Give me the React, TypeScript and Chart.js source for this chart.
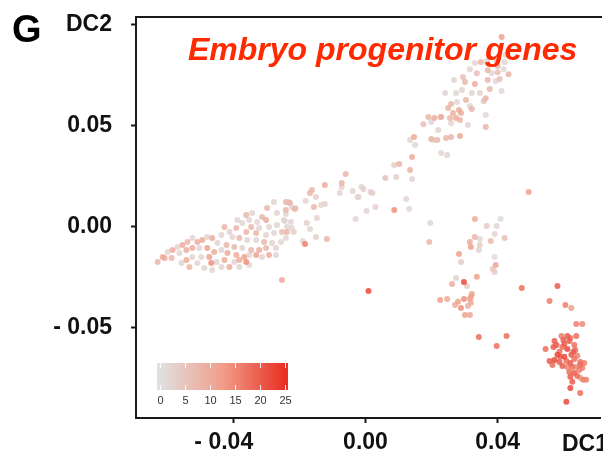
import React, { useEffect, useRef } from "react";
import { Chart, registerables } from "chart.js";

Chart.register(...registerables);

type Cell = [number, number, number]; // [DC1, DC2, expression]

const xTickValues = [-0.04, 0, 0.04];
const xTickLabels = ["- 0.04   ", "0.00", "0.04"];
const yTickValues = [-0.05, 0, 0.05, 0.1];
const yTickLabels = ["- 0.05", "0.00", "0.05", "DC2"];
const legendTicks = [0, 5, 10, 15, 20, 25];
const legendMax = 25;
const titleText = "Embryo progenitor genes";
const panelLetter = "G";
const xAxisName = "DC1";

const bandCells: Cell[] = [
  [-0.0277, 0.0122, 2], [-0.0241, 0.0122, 8], [-0.0232, 0.0122, 2], [-0.0211, 0.0092, 2],
  [-0.0298, 0.0092, 8], [-0.0241, 0.0082, 8], [-0.0268, 0.0067, 2], [-0.0313, 0.0047, 8],
  [-0.0343, 0.0067, 2], [-0.0361, 0.0057, 8], [-0.0328, 0.0022, 2], [-0.0301, 0.0032, 10],
  [-0.0352, 0.0032, 2], [-0.0373, 0.0017, 2], [-0.0388, 0.0032, 2], [-0.0346, -0.0002, 8],
  [-0.0322, -0.0007, 2], [-0.0292, -0.0002, 2], [-0.0268, 0.0007, 2], [-0.0247, 0.0032, 2],
  [-0.0226, 0.0022, 2], [-0.0223, -0.0007, 2], [-0.0253, -0.0027, 6], [-0.0277, -0.0032, 2],
  [-0.0301, -0.0042, 2], [-0.0331, -0.0032, 8], [-0.0361, -0.0027, 8], [-0.0391, -0.0007, 8],
  [-0.0412, -0.0027, 2], [-0.0427, -0.0002, 8], [-0.0436, -0.0042, 2], [-0.0403, -0.0052, 2],
  [-0.0382, -0.0057, 8], [-0.0358, -0.0067, 2], [-0.0331, -0.0067, 2], [-0.0307, -0.0077, 8],
  [-0.0283, -0.0082, 2], [-0.0256, -0.0077, 2], [-0.0241, -0.0057, 2], [-0.0271, -0.0107, 2],
  [-0.0301, -0.0107, 8], [-0.0322, -0.0117, 10], [-0.0346, -0.0117, 8], [-0.0373, -0.0107, 2],
  [-0.0397, -0.0102, 8], [-0.0421, -0.0092, 8], [-0.0448, -0.0082, 2], [-0.0464, -0.0057, 10],
  [-0.0479, -0.0052, 2], [-0.0494, -0.0067, 10], [-0.0509, -0.0077, 10], [-0.0524, -0.0057, 2],
  [-0.0539, -0.0077, 8], [-0.0554, -0.0092, 10], [-0.0569, -0.0102, 2], [-0.0584, -0.0117, 10],
  [-0.0599, -0.0127, 2], [-0.0614, -0.0151, 10], [-0.0629, -0.0176, 8], [-0.0587, -0.0156, 8],
  [-0.0563, -0.0131, 2], [-0.0542, -0.0117, 10], [-0.0524, -0.0107, 10], [-0.0503, -0.0107, 2],
  [-0.0479, -0.0107, 12], [-0.0458, -0.0127, 10], [-0.0436, -0.0117, 2], [-0.0418, -0.0131, 10],
  [-0.0391, -0.0141, 10], [-0.0367, -0.0151, 12], [-0.0382, -0.0166, 10], [-0.0352, -0.0141, 2],
  [-0.0331, -0.0141, 12], [-0.0313, -0.0151, 2], [-0.0292, -0.0141, 10], [-0.0271, -0.0141, 2],
  [-0.0361, -0.0176, 14], [-0.0397, -0.0176, 2], [-0.0427, -0.0166, 10], [-0.0451, -0.0176, 2],
  [-0.0473, -0.0151, 12], [-0.0497, -0.0151, 2], [-0.0524, -0.0151, 2], [-0.0542, -0.0166, 10],
  [-0.0509, -0.0181, 2], [-0.0467, -0.0181, 14], [-0.0436, -0.0201, 2], [-0.0488, -0.0206, 2],
  [-0.0412, -0.0201, 10], [-0.0352, -0.0191, 2], [-0.0382, -0.0201, 2], [-0.0533, -0.0201, 8],
  [-0.0557, -0.0181, 2], [-0.0464, -0.0216, 2], [-0.0608, -0.0156, 10], [-0.0241, 0.0062, 2],
  [-0.0244, 0.0027, 2], [-0.0223, 0.0097, 2], [-0.0214, 0.0087, 8], [-0.0229, 0.0117, 8],
];

const branchCells: Cell[] = [
  [0.0141, 0.0345, 10], [0.0229, 0.0365, 2], [0.0247, 0.0355, 2], [0.0087, 0.0305, 4],
  [0.0102, 0.031, 8], [0.0135, 0.028, 9], [0.006, 0.0241, 6], [0.0093, 0.0246, 3],
  [0.0141, 0.0236, 2], [-0.0012, 0.0196, 2], [-0.0006, 0.0186, 3], [0.0015, 0.0171, 2],
  [0.0021, 0.0166, 3], [-0.0021, 0.0146, 2], [0.0123, 0.0136, 2], [0.0003, 0.0077, 2],
  [0.003, 0.0097, 3], [0.0087, 0.0082, 14], [0.0132, 0.0087, 2], [-0.003, 0.0037, 2],
  [-0.006, 0.026, 8], [-0.0072, 0.0216, 8], [-0.0123, 0.0206, 10], [-0.0072, 0.0196, 3],
  [-0.0078, 0.0166, 2], [-0.0039, 0.0176, 2], [-0.0024, 0.0146, 2], [-0.0162, 0.0181, 8],
  [-0.0168, 0.0166, 8], [-0.0181, 0.0127, 2], [-0.015, 0.0146, 3], [-0.0156, 0.0097, 8],
  [-0.0135, 0.0107, 2], [-0.0123, 0.0112, 3], [-0.0147, 0.0042, 2], [-0.0178, 0.0017, 3],
  [-0.0168, -0.0012, 2], [-0.015, -0.0052, 3], [-0.0117, -0.0062, 8], [-0.019, -0.0072, 2],
  [-0.0183, -0.0087, 16], [-0.0253, -0.0265, 10], [-0.0217, -0.0027, 3], [-0.0238, -0.0027, 8],
  [-0.0238, -0.0002, 2], [0.0009, -0.032, 22],
];

const upperArmCells: Cell[] = [
  [0.0412, 0.094, 12], [0.0424, 0.0851, 2], [0.0331, 0.0811, 2], [0.0349, 0.0816, 8],
  [0.0367, 0.0821, 2], [0.0397, 0.0821, 8], [0.04, 0.0796, 8], [0.0421, 0.0816, 2],
  [0.0418, 0.0781, 2], [0.0433, 0.0756, 8], [0.0316, 0.0781, 2], [0.0337, 0.0761, 6],
  [0.037, 0.0776, 8], [0.0382, 0.0761, 2], [0.04, 0.0766, 6], [0.0295, 0.0742, 6],
  [0.0301, 0.0717, 8], [0.0268, 0.0727, 2], [0.0331, 0.0707, 10], [0.037, 0.0727, 8],
  [0.0394, 0.0722, 2], [0.0406, 0.0732, 6], [0.0412, 0.0672, 2], [0.0376, 0.0682, 8],
  [0.0346, 0.0662, 2], [0.0322, 0.0662, 2], [0.0292, 0.0677, 2], [0.0274, 0.0662, 2],
  [0.0241, 0.0662, 2], [0.0364, 0.0637, 8], [0.0358, 0.0623, 6], [0.0304, 0.0628, 8],
  [0.0277, 0.0618, 2], [0.0259, 0.0608, 8], [0.0283, 0.0578, 10], [0.0316, 0.0598, 2],
  [0.0322, 0.0583, 8], [0.025, 0.0588, 8], [0.0265, 0.0563, 9], [0.0289, 0.0563, 10],
  [0.0226, 0.0543, 2], [0.0208, 0.0538, 10], [0.019, 0.0543, 8], [0.0229, 0.0543, 10],
  [0.0256, 0.0538, 8], [0.0274, 0.0538, 10], [0.0286, 0.0528, 8], [0.0364, 0.0553, 2],
  [0.0259, 0.0513, 2], [0.031, 0.0504, 2], [0.0364, 0.0494, 8], [0.0175, 0.0508, 6],
  [0.0199, 0.0518, 2], [0.022, 0.0479, 2], [0.0286, 0.0449, 10], [0.0259, 0.0444, 8],
  [0.0244, 0.0439, 8], [0.0199, 0.0434, 8], [0.0217, 0.0429, 8], [0.0135, 0.0429, 2],
  [0.0147, 0.0444, 10], [0.015, 0.0404, 2], [0.0205, 0.0429, 2],
];

const middleCells: Cell[] = [
  [0.0494, 0.0171, 12], [0.0196, 0.0017, 2], [0.0331, 0.0037, 10], [0.0367, 0.0002, 4],
  [0.0397, 0.0002, 2], [0.0409, 0.0037, 1], [0.0391, -0.0037, 3], [0.0421, -0.0057, 6],
  [0.0193, -0.0077, 8], [0.0331, -0.0052, 8], [0.0316, -0.0077, 10], [0.0346, -0.0062, 2],
  [0.0346, -0.0092, 4], [0.0379, -0.0072, 8], [0.0319, -0.0102, 12], [0.0343, -0.0117, 3],
  [0.0283, -0.0136, 12], [0.0391, -0.0151, 1], [0.0289, -0.0176, 4], [0.0394, -0.0191, 11],
  [0.0385, -0.0211, 5], [0.0391, -0.0226, 4], [0.0274, -0.0255, 3], [0.0337, -0.025, 12],
  [0.0298, -0.0275, 22], [0.0262, -0.0285, 10], [0.0307, -0.0295, 4], [0.0473, -0.0305, 18],
  [0.0322, -0.0335, 12], [0.0319, -0.035, 11], [0.0226, -0.0365, 12], [0.0247, -0.036, 10],
  [0.028, -0.0374, 12], [0.0298, -0.036, 14], [0.0316, -0.036, 11], [0.0271, -0.0389, 10],
  [0.0319, -0.0379, 10], [0.031, -0.0394, 9], [0.0289, -0.0404, 14], [0.0301, -0.0439, 12],
  [0.0316, -0.0439, 11], [0.0343, -0.0548, 18], [0.0427, -0.0543, 18], [0.0397, -0.0593, 18],
];

const clusterCells: Cell[] = [
  [0.0581, -0.0295, 20], [0.0557, -0.037, 16], [0.0605, -0.039, 16], [0.0623, -0.0404, 12],
  [0.0638, -0.0484, 16], [0.0656, -0.0484, 15], [0.0593, -0.0543, 16], [0.0611, -0.0543, 20],
  [0.062, -0.0553, 18], [0.0638, -0.0543, 18], [0.0572, -0.0568, 20], [0.0617, -0.0568, 20],
  [0.0545, -0.0608, 18], [0.0569, -0.0598, 20], [0.0596, -0.0598, 18], [0.0611, -0.0608, 22],
  [0.0635, -0.0613, 18], [0.0581, -0.0637, 22], [0.059, -0.0647, 20], [0.0602, -0.0647, 22],
  [0.0623, -0.0637, 20], [0.0641, -0.0642, 16], [0.0557, -0.0667, 20], [0.0572, -0.0662, 22],
  [0.0587, -0.0672, 20], [0.0608, -0.0667, 18], [0.062, -0.0677, 20], [0.0632, -0.0657, 18],
  [0.065, -0.0672, 18], [0.0662, -0.0677, 16], [0.0566, -0.0687, 18], [0.0596, -0.0692, 20],
  [0.0611, -0.0697, 16], [0.0626, -0.0697, 18], [0.0638, -0.0697, 14], [0.065, -0.0687, 18],
  [0.0617, -0.0722, 18], [0.0632, -0.0727, 20], [0.0647, -0.0712, 16], [0.062, -0.0746, 20],
  [0.0641, -0.0742, 18], [0.065, -0.0751, 12], [0.0659, -0.0761, 16], [0.0668, -0.0761, 16],
  [0.0626, -0.0771, 20], [0.062, -0.0801, 22], [0.065, -0.0826, 18], [0.0608, -0.087, 22],
  [0.0578, -0.0588, 20], [0.0632, -0.0588, 18], [0.0602, -0.0583, 20], [0.0587, -0.0622, 18],
  [0.0599, -0.0563, 20], [0.0629, -0.0622, 20], [0.0656, -0.0702, 16],
];

const colorStops: [number, number[]][] = [
  [0, [224, 224, 224]],
  [0.5, [240, 158, 138]],
  [1, [232, 48, 36]],
];

function colorFor(v: number, alpha: number): string {
  const t = Math.max(0, Math.min(1, v / legendMax));
  for (let i = 1; i < colorStops.length; i++) {
    const [t1, c1] = colorStops[i];
    const [t0, c0] = colorStops[i - 1];
    if (t <= t1) {
      const f = (t - t0) / (t1 - t0);
      const c = c0.map((a, k) => Math.round(a + (c1[k] - a) * f));
      return `rgba(${c[0]},${c[1]},${c[2]},${alpha})`;
    }
  }
  const c = colorStops[colorStops.length - 1][1];
  return `rgba(${c[0]},${c[1]},${c[2]},${alpha})`;
}

const FONT = '"Liberation Sans", Arial, Helvetica, sans-serif';

const decorPlugin = {
  id: "decor",
  afterDraw(chart: any) {
    const { ctx, chartArea: a } = chart;
    ctx.save();
    ctx.strokeStyle = "#1a1a1a";
    ctx.lineWidth = 2;
    ctx.beginPath();
    ctx.moveTo(a.left - 1, a.top);
    ctx.lineTo(a.right + 2, a.top);
    ctx.stroke();

    ctx.textAlign = "left";
    ctx.textBaseline = "alphabetic";
    ctx.fillStyle = "#000";
    ctx.font = `bold 38px ${FONT}`;
    ctx.fillText(panelLetter, 12, 42);

    ctx.fillStyle = "#ff2a00";
    ctx.font = `italic bold 32px ${FONT}`;
    ctx.fillText(titleText, a.left + 52, a.top + 43);

    ctx.fillStyle = "#111";
    ctx.font = `bold 23px ${FONT}`;
    ctx.fillText(xAxisName, 562, 451);

    // colour bar legend
    const bx0 = a.left + 21;
    const bx1 = a.left + 152;
    const by0 = a.bottom - 55;
    const by1 = a.bottom - 28;
    const tx0 = bx0 + 3;
    const tx1 = bx1 - 3;
    const grad = ctx.createLinearGradient(tx0, 0, tx1, 0);
    colorStops.forEach(([t, c]) => grad.addColorStop(t, `rgb(${c[0]},${c[1]},${c[2]})`));
    ctx.fillStyle = grad;
    ctx.fillRect(bx0, by0, bx1 - bx0, by1 - by0);
    ctx.strokeStyle = "rgba(255,255,255,0.9)";
    ctx.lineWidth = 1;
    ctx.fillStyle = "#333";
    ctx.font = `11px ${FONT}`;
    ctx.textAlign = "center";
    ctx.textBaseline = "middle";
    legendTicks.forEach((v) => {
      const x = Math.round(tx0 + ((tx1 - tx0) * v) / legendMax) + 0.5;
      ctx.beginPath();
      ctx.moveTo(x, by0);
      ctx.lineTo(x, by0 + 5);
      ctx.moveTo(x, by1 - 5);
      ctx.lineTo(x, by1);
      ctx.stroke();
      ctx.fillText(String(v), x, by1 + 11);
    });
    ctx.restore();
  },
};

export default function App() {
  const ref = useRef<HTMLCanvasElement | null>(null);

  useEffect(() => {
    if (!ref.current) return;
    const all = [...bandCells, ...branchCells, ...upperArmCells, ...middleCells, ...clusterCells]
      .map(([x, y, v]) => ({ x, y, v }))
      .sort((p, q) => p.v - q.v);

    const chart = new Chart(ref.current, {
      type: "scatter",
      data: {
        datasets: [
          {
            data: all as any,
            pointRadius: 3,
            pointHoverRadius: 3,
            borderWidth: 0,
            backgroundColor: (c: any) => colorFor(c.raw ? c.raw.v : 0, 0.85),
          },
        ],
      },
      options: {
        animation: false,
        responsive: false,
        events: [],
        layout: { padding: { top: 17, right: 0, left: 0, bottom: 0 } },
        plugins: { legend: { display: false }, tooltip: { enabled: false }, title: { display: false } },
        scales: {
          x: {
            type: "linear",
            min: -0.06947,
            max: 0.07098,
            afterBuildTicks: (s: any) => {
              s.ticks = xTickValues.map((value) => ({ value }));
            },
            afterFit: (s: any) => {
              s.height = 37;
              s.paddingLeft = 0;
              s.paddingRight = 0;
            },
            ticks: {
              callback: (value: any) => xTickLabels[xTickValues.indexOf(value)] ?? "",
              font: { family: FONT, size: 23, weight: "bold" },
              color: "#111",
              padding: 6,
              maxRotation: 0,
              autoSkip: false,
            },
            grid: { drawOnChartArea: false, drawTicks: true, tickLength: 5, tickWidth: 2, tickColor: "#1a1a1a" },
            border: { display: true, color: "#1a1a1a", width: 2 },
          },
          y: {
            type: "linear",
            min: -0.09504,
            max: 0.10397,
            afterBuildTicks: (s: any) => {
              s.ticks = yTickValues.map((value) => ({ value }));
            },
            afterFit: (s: any) => {
              s.width = 136;
              s.paddingTop = 0;
              s.paddingBottom = 0;
            },
            ticks: {
              callback: (value: any) => yTickLabels[yTickValues.indexOf(value)] ?? "",
              font: { family: FONT, size: 23, weight: "bold" },
              color: "#111",
              padding: 19,
              autoSkip: false,
            },
            grid: { drawOnChartArea: false, drawTicks: true, tickLength: 5, tickWidth: 2, tickColor: "#1a1a1a" },
            border: { display: true, color: "#1a1a1a", width: 2 },
          },
        },
      },
      plugins: [decorPlugin],
    });
    return () => chart.destroy();
  }, []);

  return (
    <div style={{ position: "fixed", left: 0, top: 0, width: 603, height: 455, overflow: "hidden", background: "#fff" }}>
      <canvas ref={ref} width={603} height={455} style={{ display: "block", width: 603, height: 455 }} />
    </div>
  );
}
